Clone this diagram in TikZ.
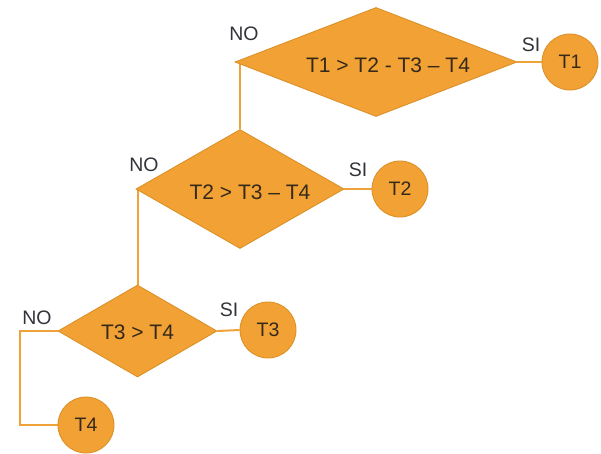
\documentclass[tikz,border=0pt]{standalone}
\usepackage{fontspec}
\setmainfont{Liberation Sans}
\usetikzlibrary{shapes.geometric,backgrounds}
\definecolor{boxfill}{HTML}{F2A135}
\definecolor{boxedge}{HTML}{DC9128}
\definecolor{wire}{HTML}{F0A23A}
\definecolor{ink}{HTML}{35291A}
\definecolor{tag}{HTML}{33333B}
\tikzset{
  test/.style={diamond, draw=boxedge, fill=boxfill, line width=0.9pt, inner sep=0pt},
  testtext/.style={font=\fontsize{21}{24}\selectfont, text=ink},
  result/.style={circle, draw=boxedge, fill=boxfill, line width=0.9pt, inner sep=0pt,
                 minimum size=56pt, font=\fontsize{19.5}{22}\selectfont, text=ink},
  wirestyle/.style={draw=wire, line width=2pt},
  answer/.style={font=\fontsize{19.5}{22}\selectfont, text=tag, inner sep=0pt}
}
\begin{document}
\begin{tikzpicture}[x=1pt,y=-1pt]
\useasboundingbox (0,0) rectangle (601,453);

% decisions
\node[test, minimum width=282pt, minimum height=109pt,
      label={[testtext, xshift=12pt, yshift=-3pt]center:T1 > T2 - T3 – T4}]
  (d1) at (376,62) {};
\node[test, minimum width=208pt, minimum height=119pt,
      label={[testtext, xshift=10pt, yshift=-3pt]center:T2 > T3 – T4}]
  (d2) at (240,189) {};
\node[test, minimum width=159pt, minimum height=92pt,
      label={[testtext, yshift=-1pt]center:T3 > T4}]
  (d3) at (137.5,331) {};

% outcomes
\node[result] (t1) at (570,62) {T1};
\node[result] (t2) at (400,189) {T2};
\node[result] (t3) at (268,330) {T3};
\node[result] (t4) at (86,425) {T4};

% branches
\begin{scope}[on background layer]
  \draw[wirestyle] (d1.east) -- (t1.west);
  \draw[wirestyle] (d2.east) -- (t2.west);
  \draw[wirestyle] (d3.east) -- (t3.west);
  \draw[wirestyle] (d2.north) -- (d2.north |- d1.west);
  \draw[wirestyle] (d3.north) -- (d3.north |- d2.west);
  \draw[wirestyle] (d3.west) -- ++(-38,0) |- (t4.west);
\end{scope}

% answer tags
\node[answer] (no1) at (244,34) {NO};
\node[answer] (si1) at (531,45) {SI};
\node[answer] (no2) at (144,165) {NO};
\node[answer] (si2) at (358,170) {SI};
\node[answer] (no3) at (37,318) {NO};
\node[answer] (si3) at (229,310) {SI};
\end{tikzpicture}
\end{document}
